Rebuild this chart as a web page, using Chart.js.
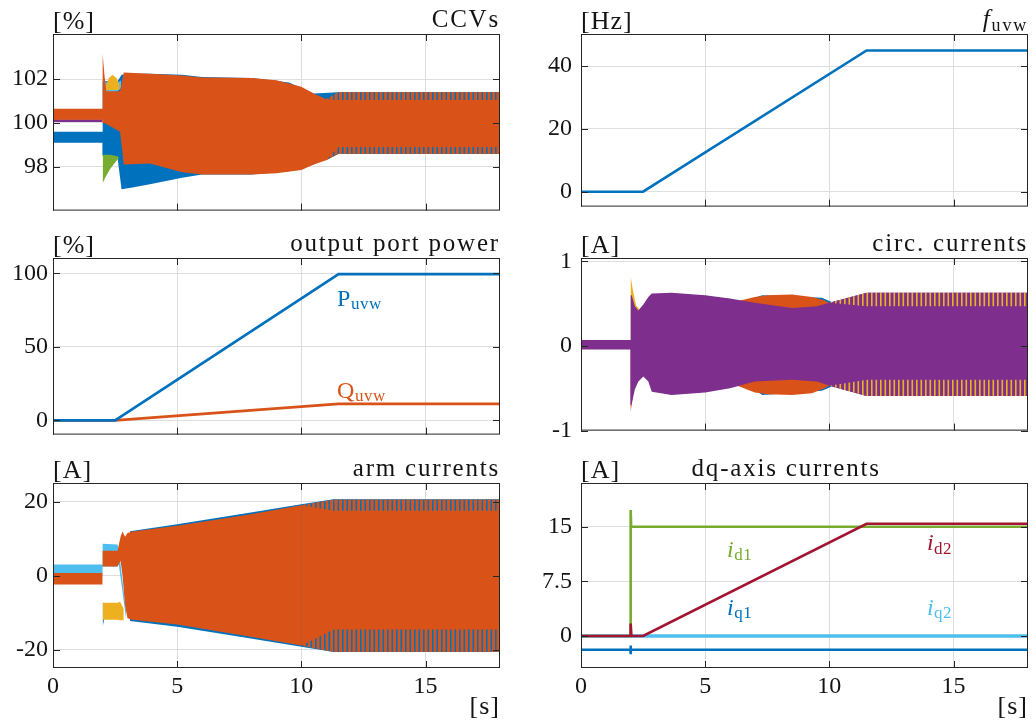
<!DOCTYPE html>
<html>
<head>
<meta charset="utf-8">
<script src="https://cdn.jsdelivr.net/npm/chart.js@4.4.0/dist/chart.umd.min.js"></script>
<style>
  body { margin: 0; background: #fff; width: 1036px; height: 725px; position: relative; overflow: hidden; }
  .panel { position: absolute; }
</style>
</head>
<body>
<div class="panel" style="left:0;top:0"><canvas id="ccv" width="510" height="230"></canvas></div>
<div class="panel" style="left:520px;top:0"><canvas id="freq" width="516" height="230"></canvas></div>
<div class="panel" style="left:0;top:224px"><canvas id="power" width="510" height="230"></canvas></div>
<div class="panel" style="left:520px;top:224px"><canvas id="circ" width="516" height="230"></canvas></div>
<div class="panel" style="left:0;top:449px"><canvas id="arm" width="510" height="276"></canvas></div>
<div class="panel" style="left:520px;top:449px"><canvas id="dq" width="516" height="276"></canvas></div>
<script>
// time axis
const timeTicks = [0, 5, 10, 15];

// CCVs [%]
const ccvTicks = [98, 100, 102];
const ccvBlueT = [0, 1.99, 2.0, 2.6, 2.76, 3.2, 3.9, 5.2, 6.0, 8.0, 9.5, 10.5, 11.5, 18];
const ccvBlueHi = [99.6, 99.6, 101.9, 101.9, 102.2, 102.25, 102.25, 102.2, 102.1, 102.05, 101.85, 101.35, 101.4, 101.4];
const ccvBlueLo = [99.1, 99.1, 98.5, 98.4, 96.97, 97.05, 97.2, 97.5, 97.65, 97.65, 97.8, 98.1, 98.6, 98.6];
const ccvPurpleT = [0, 1.99];
const ccvPurpleHi = [100.17, 100.17];
const ccvPurpleLo = [100.04, 100.04];
const ccvGreenT = [2.0, 2.1, 2.3, 2.5, 2.65];
const ccvGreenHi = [98.55, 98.55, 98.55, 98.5, 98.45];
const ccvGreenLo = [97.25, 97.5, 97.9, 98.2, 98.4];
const ccvLightT = [2.0, 2.2, 2.4, 2.6, 2.75];
const ccvLightHi = [101.9, 101.85, 101.8, 101.85, 101.95];
const ccvLightLo = [101.4, 101.4, 101.4, 101.45, 101.6];
const ccvYellowT = [2.1, 2.25, 2.4, 2.55, 2.68];
const ccvYellowHi = [101.6, 102.05, 102.2, 102.05, 101.75];
const ccvYellowLo = [101.5, 101.5, 101.5, 101.5, 101.5];
const ccvOrangeT = [0, 1.99, 2.0, 2.07, 2.15, 2.7, 2.85, 3.9, 5.2, 6.0, 8.0, 9.0, 10.0, 10.5, 11.0, 11.5, 18];
const ccvOrangeHi = [100.65, 100.65, 103.15, 102.2, 101.45, 101.45, 102.3, 102.25, 102.17, 102.08, 102.05, 101.95, 101.65, 101.35, 101.08, 101.4, 101.4];
const ccvOrangeLo = [100.15, 100.15, 100.0, 100.0, 99.95, 99.6, 98.1, 98.15, 97.75, 97.65, 97.65, 97.7, 97.85, 98.1, 98.3, 98.6, 98.6];
const ccvStripeT = [11.0, 11.5, 18];
const ccvStripeHi = [101.08, 101.4, 101.4];
const ccvStripeLo = [98.3, 98.6, 98.6];
const ccvInnerHi = [101.08, 101.05, 101.05];
const ccvInnerLo = [98.3, 98.9, 98.9];

// f_uvw [Hz]
const freqTicks = [0, 20, 40];
const freqT = [0, 2.5, 11.5, 18];
const freqV = [0, 0, 45, 45];

// output port power [%]
const powTicks = [0, 50, 100];
const powT = [0, 2.5, 11.5, 18];
const powP = [0, 0, 99.5, 99.5];
const powQ = [0, 0, 11.2, 11.2];

// circulating currents [A]
const circTicks = [-1, 0, 1];
const circBlueT = [6.9, 7.3, 9.7, 10.1];
const circBlueHi = [0.56, 0.6, 0.57, 0.52];
const circBlueLo = [-0.5, -0.58, -0.53, -0.48];
const circOrangeT = [6.3, 7.0, 7.5, 8.5, 9.3, 9.8, 10.05];
const circOrangeHi = [0.53, 0.58, 0.6, 0.61, 0.58, 0.54, 0.5];
const circOrangeLo = [-0.47, -0.55, -0.57, -0.58, -0.56, -0.5, -0.46];
const circSpikeT = [1.99, 2.0, 2.04, 2.12];
const circSpikeHi = [0, 0, 0, 0];
const circSpikeLo = [0, -0.77, -0.7, -0.5];
const circYellowT = [1.99, 2.0, 2.09, 2.22, 2.36];
const circYellowHi = [0, 0.82, 0.66, 0.48, 0.43];
const circYellowLo = [0, 0, 0, 0, 0];
const circPurpleT = [0, 1.99, 2.0, 2.04, 2.17, 2.31, 2.51, 2.71, 2.85, 3.65, 5.0, 6.0, 7.0, 8.5, 9.5, 10.0, 11.5, 18];
const circPurpleHi = [0.07, 0.07, 0.6, 0.6, 0.47, 0.42, 0.49, 0.58, 0.62, 0.63, 0.6, 0.56, 0.51, 0.45, 0.47, 0.51, 0.63, 0.63];
const circPurpleLo = [-0.04, -0.04, -0.7, -0.69, -0.51, -0.42, -0.36, -0.42, -0.54, -0.58, -0.55, -0.5, -0.42, -0.4, -0.42, -0.47, -0.59, -0.59];
const circStripeT = [10.0, 11.5, 18];
const circStripeHi = [0.51, 0.63, 0.63];
const circStripeLo = [-0.47, -0.59, -0.59];
const circInnerHi = [0.51, 0.47, 0.47];
const circInnerLo = [-0.47, -0.4, -0.4];

// arm currents [A]
const armTicks = [-20, 0, 20];
const armBlueT = [3.1, 5.0, 7.9, 10.0, 11.3, 18];
const armBlueHi = [12.0, 13.9, 17.0, 19.3, 20.6, 20.6];
const armBlueLo = [-12.2, -13.8, -16.9, -19.2, -20.6, -20.6];
const armTipT = [2.0, 2.05];
const armTipHi = [-7.3, -7.3];
const armTipLo = [-13.7, -12.2];
const armYellowT = [2.0, 2.6, 2.7, 2.85];
const armYellowHi = [-7.3, -7.3, -7.0, -9.0];
const armYellowLo = [-11.9, -11.9, -12.0, -12.0];
const armLightT = [0, 1.99, 2.0, 2.6, 2.65, 2.95];
const armLightHi = [3.0, 3.0, 8.6, 8.4, 7.0, -10.0];
const armLightLo = [0.7, 0.7, 2.5, 2.5, 3.0, -12.0];
const armOrangeT = [0, 1.99, 2.0, 2.6, 2.72, 2.8, 2.9, 3.0, 3.2, 5.0, 7.9, 10.0, 11.3, 18];
const armOrangeHi = [0.7, 0.7, 6.7, 6.7, 10.5, 11.9, 10.5, 11.5, 11.9, 13.5, 16.5, 19.0, 20.5, 20.5];
const armOrangeLo = [-2.4, -2.4, 2.5, 2.5, 4.0, 0.0, -8.0, -11.5, -11.9, -13.2, -16.4, -18.8, -20.5, -20.5];
const armStripeT = [10.0, 11.3, 18];
const armStripeHi = [19.0, 20.5, 20.5];
const armStripeLo = [-18.8, -20.5, -20.5];
const armInnerHi = [19.0, 17.5, 17.5];
const armInnerLo = [-18.8, -14.5, -14.5];

// dq-axis currents [A]
const dqTicks = [0, 7.5, 15];
const iq2T = [0, 18];
const iq2V = [0, 0];
const iq1T = [0, 1.99, 2.0, 2.0, 2.01, 18];
const iq1V = [-1.9, -1.9, -1.3, -2.5, -1.9, -1.9];
const id1T = [0, 2.0, 2.0, 2.02, 18];
const id1V = [0, 0, 17.3, 15, 15];
const id2T = [0, 1.99, 2.0, 2.03, 2.5, 11.5, 18];
const id2V = [0, 0, 1.7, 0, 0, 15.4, 15.4];

const C = {
  blue: '#0072BD', orange: '#D95319', yellow: '#EDB120', purple: '#7E2F8E',
  green: '#77AC30', light: '#4DBEEE', red: '#A2142F'
};
const gridColor = '#dedede';
const axisColor = '#262626';
const textColor = '#141414';
const serif = '"Liberation Serif", "Times New Roman", serif';

function pts(t, v) {
  return t.map((x, i) => ({ x: x, y: v[i] }));
}

function band(list, t, hi, lo, color) {
  list.push({ data: pts(t, lo), borderWidth: 0, borderColor: 'transparent', pointRadius: 0, fill: false });
  list.push({ data: pts(t, hi), borderWidth: 0, borderColor: 'transparent', pointRadius: 0, fill: '-1', backgroundColor: color });
}

function line(list, t, v, color, width) {
  list.push({ data: pts(t, v), borderColor: color, borderWidth: width, pointRadius: 0, fill: false, borderCapStyle: 'butt' });
}

// thin vertical stripes, like the beat of many overlapping waves
function stripes(base, stripe) {
  const c = document.createElement('canvas');
  c.width = 9; c.height = 8;
  const g = c.getContext('2d');
  g.fillStyle = base; g.fillRect(0, 0, 9, 8);
  g.fillStyle = stripe; g.fillRect(0, 0, 1.6, 8); g.fillRect(4.5, 0, 1.6, 8);
  return g.createPattern(c, 'repeat');
}

function drawRich(ctx, parts, x, y, align, size, spacing) {
  const fontOf = p => (p.italic ? 'italic ' : '') + Math.round(p.sub ? size * 0.7 : size) + 'px ' + serif;
  ctx.letterSpacing = spacing || '0px';
  let w = 0;
  parts.forEach(p => { ctx.font = fontOf(p); w += ctx.measureText(p.t).width; });
  let cx = align === 'right' ? x - w : align === 'center' ? x - w / 2 : x;
  ctx.textAlign = 'left';
  ctx.textBaseline = 'alphabetic';
  parts.forEach(p => {
    ctx.font = fontOf(p);
    ctx.fillText(p.t, cx, y + (p.sub ? size * 0.15 : 0));
    cx += ctx.measureText(p.t).width;
  });
  ctx.letterSpacing = '0px';
}

const panels = {
  ccv: { unit: '[%]', title: [{ t: 'CCVs' }], align: 'right' },
  freq: { unit: '[Hz]', title: [{ t: 'f', italic: true }, { t: 'uvw', sub: true }], align: 'right' },
  power: {
    unit: '[%]', title: [{ t: 'output port power' }], align: 'right',
    notes: [
      { x: 11.44, y: 78, color: C.blue, parts: [{ t: 'P' }, { t: 'uvw', sub: true }] },
      { x: 11.44, y: 15.5, color: C.orange, parts: [{ t: 'Q' }, { t: 'uvw', sub: true }] }
    ]
  },
  circ: { unit: '[A]', title: [{ t: 'circ. currents' }], align: 'right' },
  arm: { unit: '[A]', title: [{ t: 'arm currents' }], align: 'right', xLabel: true },
  dq: {
    unit: '[A]', title: [{ t: 'dq-axis currents' }], align: 'center', titleX: 8.26, xLabel: true,
    notes: [
      { x: 5.88, y: 10.9, color: C.green, parts: [{ t: 'i', italic: true }, { t: 'd1', sub: true }] },
      { x: 13.93, y: 11.8, color: C.red, parts: [{ t: 'i', italic: true }, { t: 'd2', sub: true }] },
      { x: 5.88, y: 2.9, color: C.blue, parts: [{ t: 'i', italic: true }, { t: 'q1', sub: true }] },
      { x: 13.93, y: 2.9, color: C.light, parts: [{ t: 'i', italic: true }, { t: 'q2', sub: true }] }
    ]
  }
};

const panelPlugin = {
  id: 'panelFrame',
  afterDraw(chart) {
    const cfg = panels[chart.canvas.id];
    const { ctx, chartArea: a, scales } = chart;
    ctx.save();
    // axes box with inward ticks
    ctx.strokeStyle = axisColor;
    ctx.lineWidth = 1;
    ctx.strokeRect(a.left + 0.5, a.top + 0.5, a.right - a.left - 1, a.bottom - a.top - 1);
    ctx.beginPath();
    scales.y.ticks.forEach(tk => {
      const py = Math.round(scales.y.getPixelForValue(tk.value)) + 0.5;
      ctx.moveTo(a.left, py); ctx.lineTo(a.left + 7, py);
      ctx.moveTo(a.right, py); ctx.lineTo(a.right - 7, py);
    });
    scales.x.ticks.forEach(tk => {
      const px = Math.round(scales.x.getPixelForValue(tk.value)) + 0.5;
      ctx.moveTo(px, a.bottom); ctx.lineTo(px, a.bottom - 7);
      ctx.moveTo(px, a.top); ctx.lineTo(px, a.top + 7);
    });
    ctx.stroke();

    ctx.fillStyle = textColor;
    drawRich(ctx, [{ t: cfg.unit }], a.left, a.top - 5, 'left', 26, '1px');
    if (cfg.align === 'center') {
      drawRich(ctx, cfg.title, scales.x.getPixelForValue(cfg.titleX), a.top - 7, 'center', 25, '1.8px');
    } else {
      drawRich(ctx, cfg.title, a.right, a.top - 7, 'right', 25, '1.8px');
    }
    if (cfg.xLabel) {
      drawRich(ctx, [{ t: '[s]' }], a.right, a.bottom + 46, 'right', 26, '1px');
    }
    (cfg.notes || []).forEach(n => {
      ctx.fillStyle = n.color;
      drawRich(ctx, n.parts, scales.x.getPixelForValue(n.x), scales.y.getPixelForValue(n.y), 'left', 24, '0.5px');
    });
    ctx.restore();
  }
};

function makeChart(id, sets, yMin, yMax, yTicks, left, bottom) {
  // later datasets are drawn on top
  sets.forEach((d, i) => { d.order = sets.length - i; });
  return new Chart(document.getElementById(id), {
    type: 'line',
    data: { datasets: sets },
    options: {
      responsive: false,
      animation: false,
      devicePixelRatio: 1,
      layout: { padding: { top: 34, right: left ? 10 : 8, left: 0, bottom: 0 } },
      elements: { point: { radius: 0 }, line: { tension: 0 } },
      plugins: { legend: { display: false }, tooltip: { enabled: false } },
      scales: {
        x: {
          type: 'linear', min: 0, max: 18,
          afterBuildTicks: axis => { axis.ticks = timeTicks.map(v => ({ value: v })); },
          afterFit: scale => { scale.height = bottom ? 57 : 10; },
          grid: { color: gridColor, drawTicks: false },
          border: { display: false },
          ticks: { display: bottom, color: textColor, font: { family: serif, size: 24 }, padding: 4, maxRotation: 0, autoSkip: false }
        },
        y: {
          min: yMin, max: yMax,
          afterBuildTicks: axis => { axis.ticks = yTicks.map(v => ({ value: v })); },
          afterFit: scale => { scale.width = left ? 53 : 61; },
          grid: { color: gridColor, drawTicks: false },
          border: { display: false },
          ticks: { color: textColor, font: { family: serif, size: 24 }, padding: left ? 5 : 9, autoSkip: false }
        }
      }
    },
    plugins: [panelPlugin]
  });
}

// CCVs
const ccvSets = [];
band(ccvSets, ccvBlueT, ccvBlueHi, ccvBlueLo, C.blue);
band(ccvSets, ccvPurpleT, ccvPurpleHi, ccvPurpleLo, C.purple);
band(ccvSets, ccvGreenT, ccvGreenHi, ccvGreenLo, C.green);
band(ccvSets, ccvLightT, ccvLightHi, ccvLightLo, C.light);
band(ccvSets, ccvYellowT, ccvYellowHi, ccvYellowLo, C.yellow);
band(ccvSets, ccvOrangeT, ccvOrangeHi, ccvOrangeLo, C.orange);
band(ccvSets, ccvStripeT, ccvStripeHi, ccvStripeLo, stripes(C.orange, C.blue));
band(ccvSets, ccvStripeT, ccvInnerHi, ccvInnerLo, C.orange);
makeChart('ccv', ccvSets, 96, 104.06, ccvTicks, true, false);

// f_uvw
const freqSets = [];
line(freqSets, freqT, freqV, C.blue, 2.6);
makeChart('freq', freqSets, -4.75, 50.25, freqTicks, false, false);

// output port power
const powSets = [];
line(powSets, powT, powQ, C.orange, 2.6);
line(powSets, powT, powP, C.blue, 2.6);
makeChart('power', powSets, -9.7, 110.5, powTicks, true, false);

// circulating currents
const circSets = [];
band(circSets, circBlueT, circBlueHi, circBlueLo, C.blue);
band(circSets, circOrangeT, circOrangeHi, circOrangeLo, C.orange);
band(circSets, circSpikeT, circSpikeHi, circSpikeLo, C.orange);
band(circSets, circYellowT, circYellowHi, circYellowLo, C.yellow);
band(circSets, circPurpleT, circPurpleHi, circPurpleLo, C.purple);
band(circSets, circStripeT, circStripeHi, circStripeLo, stripes(C.purple, C.yellow));
band(circSets, circStripeT, circInnerHi, circInnerLo, C.purple);
makeChart('circ', circSets, -1, 1.04, circTicks, false, false);

// arm currents
const armSets = [];
band(armSets, armBlueT, armBlueHi, armBlueLo, C.blue);
band(armSets, armTipT, armTipHi, armTipLo, C.blue);
band(armSets, armYellowT, armYellowHi, armYellowLo, C.yellow);
band(armSets, armLightT, armLightHi, armLightLo, C.light);
band(armSets, armOrangeT, armOrangeHi, armOrangeLo, C.orange);
band(armSets, armStripeT, armStripeHi, armStripeLo, stripes(C.orange, C.blue));
band(armSets, armStripeT, armInnerHi, armInnerLo, C.orange);
makeChart('arm', armSets, -24.9, 25, armTicks, true, true);

// dq-axis currents
const dqSets = [];
line(dqSets, iq2T, iq2V, C.light, 3.4);
line(dqSets, iq1T, iq1V, C.blue, 2.6);
line(dqSets, id1T, id1V, C.green, 2.6);
line(dqSets, id2T, id2V, C.red, 2.6);
makeChart('dq', dqSets, -4.4, 21, dqTicks, false, true);
</script>
</body>
</html>
